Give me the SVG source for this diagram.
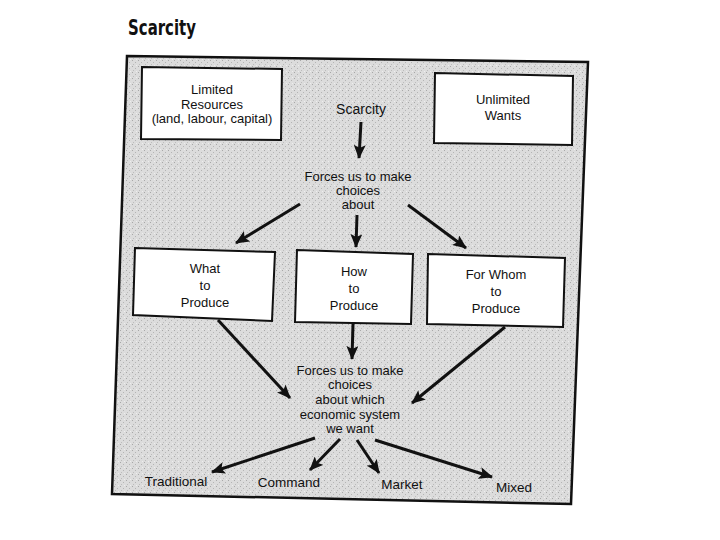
<svg xmlns="http://www.w3.org/2000/svg" width="720" height="540" viewBox="0 0 720 540">
<defs>
<marker id="ah" markerUnits="userSpaceOnUse" markerWidth="14" markerHeight="12" refX="13" refY="6" orient="auto">
<path d="M0,0 L14,6 L0,12 L3,6 Z" fill="#111"/>
</marker>
<pattern id="stip" width="6" height="6" patternUnits="userSpaceOnUse">
<rect width="6" height="6" fill="#dcdcdc"/>
<rect x="0" y="0" width="1" height="1" fill="#a8a8a8"/>
<rect x="3" y="2" width="1" height="1" fill="#b4b4b4"/>
<rect x="1" y="4" width="1" height="1" fill="#bcbcbc"/>
<rect x="4" y="5" width="1" height="1" fill="#eeeeee"/>
</pattern>
</defs>
<style>
text{font-family:"Liberation Sans",Arial,sans-serif;font-size:13px;fill:#111;text-anchor:middle}
.lbl{font-size:13.5px}
.box{fill:#fff;stroke:#111;stroke-width:2}
.c{stroke:#111;stroke-width:3;fill:none;marker-end:url(#ah)}
</style>
<rect width="720" height="540" fill="#fff"/>
<text x="128" y="35" style="font-family:'DejaVu Sans',sans-serif;font-weight:bold;font-size:21px;text-anchor:start" textLength="68" lengthAdjust="spacingAndGlyphs">Scarcity</text>
<g id="frame">
<polygon points="127,56 588,62 571,504 112,494" fill="url(#stip)" stroke="#111" stroke-width="2.5"/>
</g>
<g id="limited">
<polygon class="box" points="142,67 282,69 281,140 141,139"/>
<text x="212" y="94">Limited</text>
<text x="212" y="109">Resources</text>
<text x="212" y="123">(land, labour, capital)</text>
</g>
<g id="unlimited">
<polygon class="box" points="435,73 573,76 572,145 434,143"/>
<text x="503" y="104">Unlimited</text>
<text x="503" y="120">Wants</text>
</g>
<g id="scarcity">
<text x="361" y="114" style="font-size:14px">Scarcity</text>
</g>
<g id="forces1">
<text x="358" y="181">Forces us to make</text>
<text x="358" y="195">choices</text>
<text x="358" y="209">about</text>
</g>
<g id="what">
<polygon class="box" points="135,248 275,252 272,321 133,315"/>
<text x="205" y="273">What</text>
<text x="205" y="290">to</text>
<text x="205" y="307">Produce</text>
</g>
<g id="how">
<polygon class="box" points="297,250 413,254 411,324 295,322"/>
<text x="354" y="276">How</text>
<text x="354" y="293">to</text>
<text x="354" y="310">Produce</text>
</g>
<g id="forwhom">
<polygon class="box" points="428,254 565,258 563,327 427,324"/>
<text x="496" y="279">For Whom</text>
<text x="496" y="296">to</text>
<text x="496" y="313">Produce</text>
</g>
<g id="forces2">
<text x="350" y="375">Forces us to make</text>
<text x="350" y="389">choices</text>
<text x="350" y="404">about which</text>
<text x="350" y="419">economic system</text>
<text x="350" y="433">we want</text>
</g>
<g id="traditional"><text class="lbl" x="176" y="486">Traditional</text></g>
<g id="command"><text class="lbl" x="289" y="487">Command</text></g>
<g id="market"><text class="lbl" x="402" y="489">Market</text></g>
<g id="mixed"><text class="lbl" x="514" y="492">Mixed</text></g>
<g id="connectors">
<line class="c" x1="361" y1="122" x2="359" y2="158"/>
<line class="c" x1="300" y1="204" x2="236" y2="243"/>
<line class="c" x1="357" y1="215" x2="356" y2="247"/>
<line class="c" x1="408" y1="205" x2="466" y2="248"/>
<line class="c" x1="218" y1="320" x2="290" y2="398"/>
<line class="c" x1="353" y1="324" x2="352" y2="359"/>
<line class="c" x1="505" y1="327" x2="412" y2="403"/>
<line class="c" x1="315" y1="438" x2="212" y2="472"/>
<line class="c" x1="340" y1="439" x2="310" y2="470"/>
<line class="c" x1="357" y1="440" x2="379" y2="473"/>
<line class="c" x1="375" y1="440" x2="492" y2="477"/>
</g>
</svg>
